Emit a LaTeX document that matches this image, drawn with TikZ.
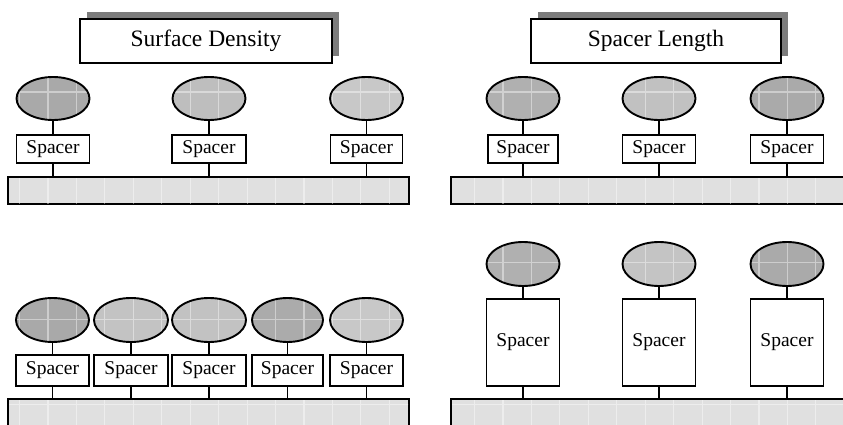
\documentclass[tikz,border=0pt]{standalone}
\usepackage{fontspec}
\setmainfont{Liberation Serif}
\usetikzlibrary{shapes.geometric,shadows}
\definecolor{subfill}{HTML}{E0E0E0}
\definecolor{shadowgray}{HTML}{7C7C7C}
\definecolor{hA}{HTML}{A9A9A9}
\definecolor{hB}{HTML}{B0B0B0}
\definecolor{hC}{HTML}{BEBEBE}
\definecolor{hD}{HTML}{C8C8C8}
\tikzset{
  outl/.style={draw=black, line width=1.9pt, outer sep=0pt, inner sep=0pt},
  head/.style={outl, ellipse, minimum width=73pt, minimum height=43pt},
  spacerbox/.style={outl, rectangle, fill=white, minimum width=73pt, minimum height=28pt, font=\fontsize{19.5}{22}\selectfont},
  subbox/.style={outl, rectangle, fill=subfill, minimum width=401pt, minimum height=27pt},
  titlebox/.style={outl, rectangle, fill=white, minimum height=44pt, font=\fontsize{23.5}{28}\selectfont,
    general shadow={shadow xshift=6.5pt, shadow yshift=7pt, fill=shadowgray}},
  stem/.style={draw=black, line width=1.8pt},
  gridln/.style={draw=white, draw opacity=0.42, line width=1.1pt}
}
\newcommand\gridall{%
  \draw[gridln]
    \foreach \k in {-1,...,28}{ ({48+28.44*\k},0) -- ({48+28.44*\k},430) }
    \foreach \k in {0,...,15}{ (0,{6.7+28.44*\k}) -- (850,{6.7+28.44*\k}) };}
\newcommand\gridE[3]{\begin{scope}\clip (#1.center) ellipse [x radius=#2pt, y radius=#3pt];\gridall\end{scope}}
\newcommand\gridR[1]{\begin{scope}\clip ([xshift=1pt,yshift=1pt]#1.south west) rectangle ([xshift=-1pt,yshift=-1pt]#1.north east);\gridall\end{scope}}
\begin{document}
\begin{tikzpicture}[x=1pt,y=-1pt]
\clip (0,0) rectangle (843,425);
\fill[white] (0,0) rectangle (843,425);

% ---------- top left: Surface Density ----------
\node[titlebox, minimum width=252pt] (t1) at (206,41) {Surface Density};
\node[head, fill=hA] (a1) at (53,98.5) {};
\node[head, fill=hC] (a2) at (209,98.5) {};
\node[head, fill=hD] (a3) at (366.5,98.5) {};
\node[spacerbox] (b1) at (53,149) {Spacer};
\node[spacerbox, minimum width=74pt] (b2) at (209,149) {Spacer};
\node[spacerbox, minimum width=72pt] (b3) at (366.5,149) {Spacer};
\node[subbox] (c1) at (208.5,190.5) {};
\gridE{a1}{35.5}{20.5}\gridE{a2}{35.5}{20.5}\gridE{a3}{35.5}{20.5}
\gridR{c1}
\foreach \i in {1,2,3}{
  \draw[stem] (a\i.south) -- (b\i.north);
  \draw[stem] (b\i.south) -- (b\i.south |- c1.north);
}

% ---------- top right: Spacer Length ----------
\node[titlebox, minimum width=250pt] (t2) at (656,41) {Spacer Length};
\node[head, fill=hB] (d1) at (523,98.5) {};
\node[head, fill=hC!70!hD] (d2) at (659,98.5) {};
\node[head, fill=hA!80!hB] (d3) at (787,98.5) {};
\node[spacerbox, minimum width=70pt] (e1) at (523,149) {Spacer};
\node[spacerbox] (e2) at (659,149) {Spacer};
\node[spacerbox] (e3) at (787,149) {Spacer};
\node[subbox] (f1) at (651.5,190.5) {};
\gridE{d1}{35.5}{20.5}\gridE{d2}{35.5}{20.5}\gridE{d3}{35.5}{20.5}
\gridR{f1}
\foreach \i in {1,2,3}{
  \draw[stem] (d\i.south) -- (e\i.north);
  \draw[stem] (e\i.south) -- (e\i.south |- f1.north);
}

% ---------- bottom left: dense ----------
\node[head, fill=hA, minimum height=44pt] (g1) at (52.5,320) {};
\node[head, fill=hC!50!hD, minimum height=44pt, minimum width=74pt] (g2) at (131,320) {};
\node[head, fill=hC!60!hD, minimum height=44pt, minimum width=74pt] (g3) at (209,320) {};
\node[head, fill=hA!70!hB, minimum height=44pt, minimum width=71pt] (g4) at (287.5,320) {};
\node[head, fill=hD, minimum height=44pt] (g5) at (366.5,320) {};
\node[spacerbox, minimum height=31pt] (h1) at (52.5,370.5) {Spacer};
\node[spacerbox, minimum height=31pt, minimum width=74pt] (h2) at (131,370.5) {Spacer};
\node[spacerbox, minimum height=31pt, minimum width=74pt] (h3) at (209,370.5) {Spacer};
\node[spacerbox, minimum height=31pt, minimum width=71pt] (h4) at (287.5,370.5) {Spacer};
\node[spacerbox, minimum height=31pt] (h5) at (366.5,370.5) {Spacer};
\node[subbox, minimum height=28pt] (i1) at (208.5,413) {};
\gridE{g1}{35.5}{21}\gridE{g2}{36}{21}\gridE{g3}{36}{21}\gridE{g4}{34.5}{21}\gridE{g5}{35.5}{21}
\gridR{i1}
\foreach \i in {1,...,5}{
  \draw[stem] (g\i.south) -- (h\i.north);
  \draw[stem] (h\i.south) -- (h\i.south |- i1.north);
}

% ---------- bottom right: long spacers ----------
\node[head, fill=hB, minimum height=44pt] (j1) at (523,264) {};
\node[head, fill=hC!40!hD, minimum height=44pt] (j2) at (659,264) {};
\node[head, fill=hA!80!hB, minimum height=44pt] (j3) at (787,264) {};
\node[spacerbox, minimum height=87pt] (k1) at (523,342.5) {Spacer};
\node[spacerbox, minimum height=87pt] (k2) at (659,342.5) {Spacer};
\node[spacerbox, minimum height=87pt] (k3) at (787,342.5) {Spacer};
\node[subbox, minimum height=28pt] (l1) at (651.5,413) {};
\gridE{j1}{35.5}{21}\gridE{j2}{35.5}{21}\gridE{j3}{35.5}{21}
\gridR{l1}
\foreach \i in {1,2,3}{
  \draw[stem] (j\i.south) -- (k\i.north);
  \draw[stem] (k\i.south) -- (k\i.south |- l1.north);
}
\end{tikzpicture}
\end{document}
